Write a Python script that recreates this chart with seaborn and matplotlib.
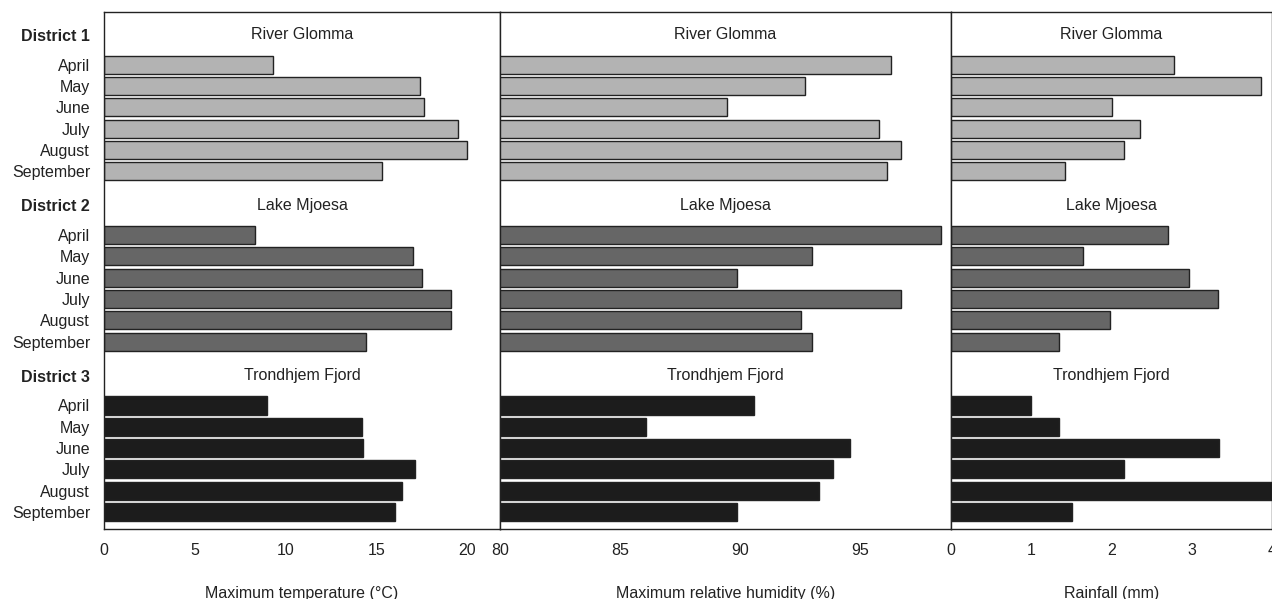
import numpy as np
import pandas as pd
import matplotlib
matplotlib.use("Agg")
import matplotlib.pyplot as plt
import matplotlib.transforms as mtransforms
import seaborn as sns

# ---- data -------------------------------------------------------------
months = ["April", "May", "June", "July", "August", "September"]
districts = ["District 1", "District 2", "District 3"]
sites = ["River Glomma", "Lake Mjoesa", "Trondhjem Fjord"]

temp_d1 = [9.3, 17.4, 17.6, 19.5, 20.0, 15.3]
temp_d2 = [8.3, 17.0, 17.5, 19.1, 19.1, 14.4]
temp_d3 = [9.0, 14.2, 14.25, 17.1, 16.4, 16.0]

hum_d1 = [96.3, 92.7, 89.45, 95.8, 96.7, 96.15]
hum_d2 = [98.4, 93.0, 89.9, 96.7, 92.55, 93.0]
hum_d3 = [90.6, 86.1, 94.6, 93.9, 93.3, 89.9]

rain_d1 = [2.78, 3.86, 2.0, 2.36, 2.15, 1.42]
rain_d2 = [2.71, 1.64, 2.97, 3.33, 1.98, 1.34]
rain_d3 = [1.0, 1.34, 3.34, 2.15, 4.1, 1.51]

temp_ticks = [0, 5, 10, 15, 20]
hum_ticks = [80, 85, 90, 95]
rain_ticks = [0, 1, 2, 3, 4]

# ---- long-form table ----------------------------------------------------
rows_per_group = 8
rows = []
for g, d in enumerate(districts):
    for m, month in enumerate(months):
        rows.append({
            "district": d,
            "month": month,
            "pos": g * rows_per_group + m,
            "temp": [temp_d1, temp_d2, temp_d3][g][m],
            "hum": [hum_d1, hum_d2, hum_d3][g][m],
            "rain": [rain_d1, rain_d2, rain_d3][g][m],
        })
df = pd.DataFrame(rows)

# ---- styling ------------------------------------------------------------
sns.set_style("white")
plt.rcParams["font.family"] = ["Liberation Sans", "DejaVu Sans"]
text_col = "#222222"
fs = 11.5
palette = {"District 1": "#b3b3b3", "District 2": "#666666", "District 3": "#1c1c1c"}

W, H = 1272, 599
fig = plt.figure(figsize=(W / 100, H / 100), dpi=100)

top_px, bot_px = 11.5, 529
panels = [
    # (column, left px, right px, xlim, ticks, label)
    ("temp", 104, 500, (0, 21.8), temp_ticks, "Maximum temperature (°C)"),
    ("hum", 500, 951, (80, 98.8), hum_ticks, "Maximum relative humidity (%)"),
    ("rain", 951, 1272, (0, 4.0), rain_ticks, "Rainfall (mm)"),
]

title_offset = -1.4
for i, (col, lpx, rpx, xlim, ticks, xlabel) in enumerate(panels):
    ax = fig.add_axes([lpx / W, 1 - bot_px / H, (rpx - lpx) / W, (bot_px - top_px) / H])
    sns.barplot(
        data=df, x=col, y="pos", hue="district", orient="h",
        native_scale=True, dodge=False, palette=palette,
        width=0.85, edgecolor="#222222", linewidth=1.0,
        legend=False, ax=ax, errorbar=None,
    )
    ax.set_xlim(*xlim)
    ax.set_ylim(21.8, -2.5)
    ax.set_xticks(ticks)
    ax.set_xticklabels([str(t) for t in ticks])
    ax.tick_params(axis="x", direction="out", length=2.5, width=0.8,
                   color="#333333", pad=7.5, labelsize=fs, labelcolor=text_col)
    ax.set_xlabel(xlabel, fontsize=fs, color=text_col, labelpad=20)
    for sp in ax.spines.values():
        sp.set_visible(True)
        sp.set_color("#222222")
        sp.set_linewidth(1.0)

    trans = mtransforms.blended_transform_factory(ax.transAxes, ax.transData)
    for g, site in enumerate(sites):
        ax.text(0.5, g * rows_per_group + title_offset, site, transform=trans,
                ha="center", va="center", fontsize=fs, color=text_col)

    if i == 0:
        yt, yl, bold = [], [], []
        for g, d in enumerate(districts):
            yt.append(g * rows_per_group + title_offset)
            yl.append(d)
            bold.append(True)
            for m, month in enumerate(months):
                yt.append(g * rows_per_group + m)
                yl.append(month)
                bold.append(False)
        ax.set_yticks(yt)
        ax.set_yticklabels(yl)
        ax.tick_params(axis="y", length=0, pad=10, labelsize=fs, labelcolor=text_col)
        for lab, b in zip(ax.get_yticklabels(), bold):
            if b:
                lab.set_fontweight("bold")
    else:
        ax.set_yticks([])
    ax.set_ylabel("")

fig.savefig("out.png", dpi=100, facecolor="white")
